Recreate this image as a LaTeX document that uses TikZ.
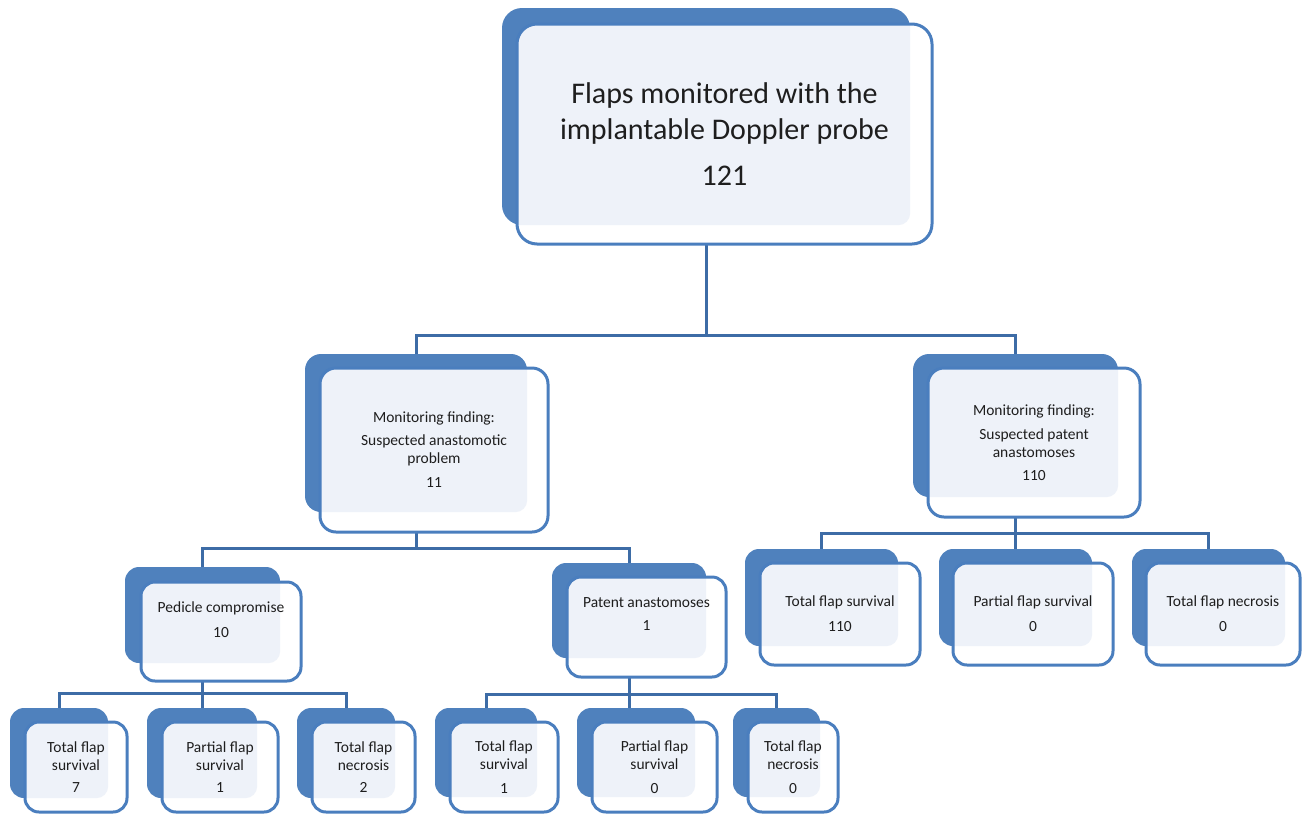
\documentclass[tikz,border=0pt]{standalone}
\usepackage{fontspec}
\setmainfont{Carlito}
\usetikzlibrary{backgrounds}
\definecolor{darkblue}{RGB}{79,129,189}
\definecolor{edgeblue}{RGB}{74,126,190}
\definecolor{linkblue}{RGB}{61,108,166}
\definecolor{paleblue}{RGB}{238,242,249}
\definecolor{ink}{RGB}{30,30,30}
\tikzset{
    backbox/.style={fill=darkblue, rounded corners=14pt, inner sep=0pt},
    frontbox/.style={draw=edgeblue, line width=3pt, fill=white, rounded corners=14pt,
        inner sep=0pt, align=center, text=ink, font=\fontsize{15.5}{18}\selectfont,
        path picture={\fill[paleblue, rounded corners=12pt]
            ([shift={(-30pt,30pt)}]path picture bounding box.north west) rectangle (#1.south east);}},
    link/.style={draw=linkblue, line width=3pt}
}
\begin{document}
\begin{tikzpicture}[x=1pt, y=-1pt]
    \useasboundingbox (0,0) rectangle (1302,815);
    \node[backbox][rounded corners=20pt, minimum width=408, minimum height=217] (rootb) at (706,116.5) {};
    \node[frontbox=rootb][rounded corners=20pt, minimum width=415, minimum height=220,
        font=\fontsize{30}{36}\selectfont] (root) at (724.5,134)
        {Flaps monitored with the\\implantable Doppler probe\\[10pt]121};

    \node[backbox][rounded corners=16pt, minimum width=222, minimum height=158] (probb) at (416,433) {};
    \node[frontbox=probb][rounded corners=16pt, minimum width=228, minimum height=164] (prob) at (434,450)
        {Monitoring finding:\\[5pt]Suspected anastomotic\\problem\\[6pt]11};
    \node[backbox][rounded corners=16pt, minimum width=205, minimum height=143] (noprb) at (1015.5,425.5) {};
    \node[frontbox=noprb][rounded corners=16pt, minimum width=212, minimum height=149] (nopr) at (1034,442.5)
        {Monitoring finding:\\[6pt]Suspected patent\\anastomoses\\[5pt]110};

    \node[backbox][minimum width=155, minimum height=96] (pedb) at (202.5,615) {};
    \node[frontbox=pedb][minimum width=160, minimum height=99, text depth=24pt] (ped) at (221,631.5)
        {Pedicle compromise\\[7pt]10};
    \node[backbox][minimum width=154, minimum height=95] (patb) at (629,610.5) {};
    \node[frontbox=patb][minimum width=159, minimum height=100, text depth=25pt] (pat) at (646.5,627)
        {Patent anastomoses\\[5pt]1};

    \node[backbox][minimum width=153, minimum height=97] (r1b) at (821.5,597.5) {};
    \node[frontbox=r1b][minimum width=160, minimum height=102] (r1) at (840,614)
        {Total flap survival\\[7pt]110};
    \node[backbox][minimum width=153, minimum height=97] (r2b) at (1015.5,597.5) {};
    \node[frontbox=r2b][minimum width=160, minimum height=102] (r2) at (1033,614)
        {Partial flap survival\\[7pt]0};
    \node[backbox][minimum width=153, minimum height=97] (r3b) at (1208.5,597.5) {};
    \node[frontbox=r3b][minimum width=154, minimum height=102] (r3) at (1223,614)
        {Total flap necrosis\\[7pt]0};

    \node[backbox][minimum width=98, minimum height=90] (a1b) at (59,753) {};
    \node[frontbox=a1b][minimum width=102, minimum height=90] (a1) at (76,767)
        {Total flap\\survival\\[4pt]7};
    \node[backbox][minimum width=110, minimum height=90] (a2b) at (202,753) {};
    \node[frontbox=a2b][minimum width=116, minimum height=90] (a2) at (220,767)
        {Partial flap\\survival\\[4pt]1};
    \node[backbox][minimum width=98, minimum height=90] (a3b) at (346,753) {};
    \node[frontbox=a3b][minimum width=103, minimum height=90] (a3) at (363.5,767)
        {Total flap\\necrosis\\[4pt]2};

    \node[backbox][minimum width=102, minimum height=89] (b1b) at (486,752.5) {};
    \node[frontbox=b1b][minimum width=108, minimum height=90] (b1) at (504,767)
        {Total flap\\survival\\[6pt]1};
    \node[backbox][minimum width=118, minimum height=89] (b2b) at (636,752.5) {};
    \node[frontbox=b2b][minimum width=125, minimum height=90] (b2) at (654.5,767)
        {Partial flap\\survival\\[6pt]0};
    \node[backbox][minimum width=87, minimum height=89] (b3b) at (776.5,752.5) {};
    \node[frontbox=b3b][minimum width=90, minimum height=90] (b3) at (793,767)
        {Total flap\\necrosis\\[6pt]0};

    \begin{scope}[on background layer]
    \draw[link] (rootb.center) -- (rootb.center |- 0,335) -| (probb.center);
    \draw[link] (rootb.center |- 0,335) -| (noprb.center);
    \draw[link] (probb.center) -- (probb.center |- 0,548) -| (pedb.center);
    \draw[link] (probb.center |- 0,548) -| (patb.center);
    \draw[link] (noprb.center) -- (noprb.center |- 0,533) -| (r1b.center);
    \draw[link] (noprb.center |- 0,533) -| (r3b.center);
    \draw[link] (noprb.center |- 0,533) -- (r2b.center);
    \draw[link] (pedb.center) -- (pedb.center |- 0,693) -| (a1b.center);
    \draw[link] (pedb.center |- 0,693) -| (a3b.center);
    \draw[link] (pedb.center |- 0,693) -| (a2b.center);
    \draw[link] (patb.center) -- (patb.center |- b2b.north);
    \draw[link] (b1b.center) |- (patb.center |- 0,694) -| (b3b.center);
    \end{scope}
\end{tikzpicture}
\end{document}
